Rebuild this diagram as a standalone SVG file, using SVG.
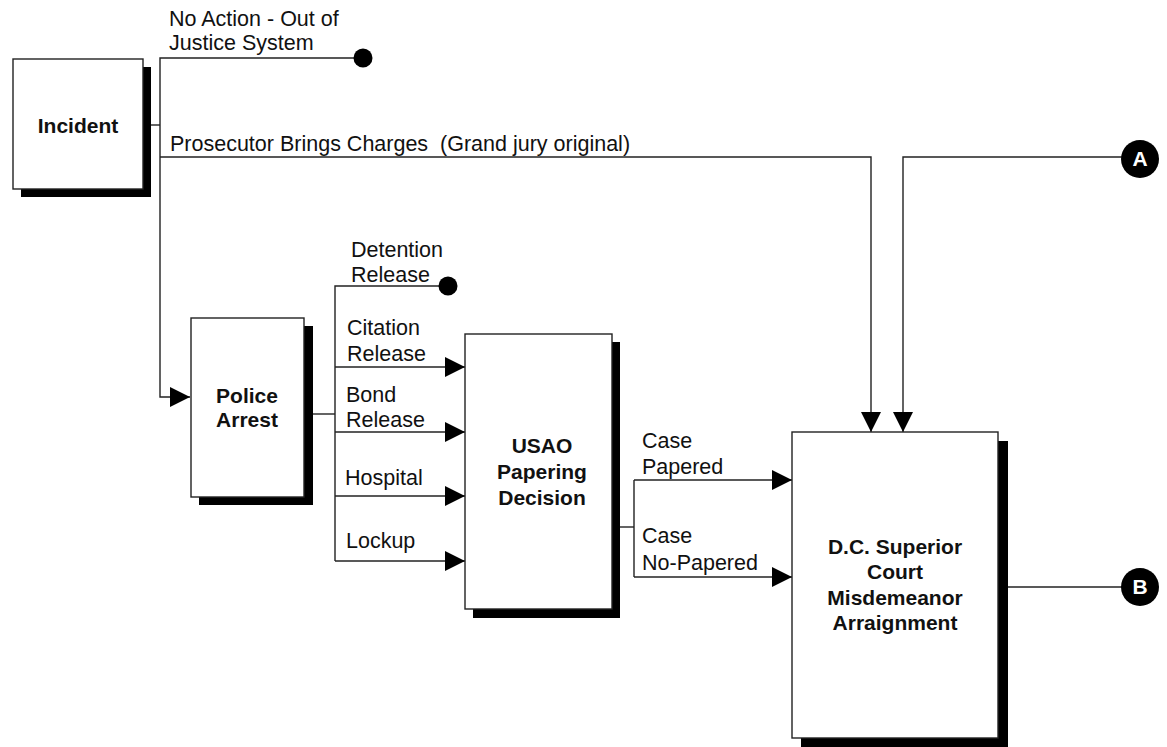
<svg xmlns="http://www.w3.org/2000/svg" width="1167" height="747" viewBox="0 0 1167 747">
  <style>
    .box { fill: #ffffff; stroke: #222222; stroke-width: 1.4; }
    .shadow { fill: #000000; }
    .title { font-family: "Liberation Sans", Arial, sans-serif; font-size: 21px; font-weight: bold; fill: #111111; text-anchor: middle; }
    .lbl { font-family: "Liberation Sans", Arial, sans-serif; font-size: 21.5px; fill: #111111; white-space: pre; }
    .wire { fill: none; stroke: #222222; stroke-width: 1.4; }
    .end { fill: #000000; }
    .conn-letter { font-family: "Liberation Sans", Arial, sans-serif; font-size: 21px; font-weight: bold; fill: #ffffff; text-anchor: middle; }
  </style>
  <defs>
    <marker id="arrow" viewBox="0 0 20 20" refX="20" refY="10" markerWidth="20" markerHeight="20" markerUnits="userSpaceOnUse" orient="auto">
      <path d="M0,0 L20,10 L0,20 z" fill="#000000"/>
    </marker>
  </defs>
  <rect width="1167" height="747" fill="#ffffff"/>

  <!-- flow lines -->
  <g id="connectors">
    <!-- Incident outlets -->
    <path class="wire" d="M143,125 H160"/>
    <path class="wire" d="M363,58 H160 V397 H190" marker-end="url(#arrow)"/>
    <path class="wire" d="M160,157 H871 V432" marker-end="url(#arrow)"/>
    <!-- connector A into arraignment -->
    <path class="wire" d="M1140,157 H903 V432" marker-end="url(#arrow)"/>
    <!-- Police Arrest outlets -->
    <path class="wire" d="M313,414 H335"/>
    <path class="wire" d="M448,286 H335 V561"/>
    <path class="wire" d="M335,367 H465" marker-end="url(#arrow)"/>
    <path class="wire" d="M335,432 H465" marker-end="url(#arrow)"/>
    <path class="wire" d="M335,496 H465" marker-end="url(#arrow)"/>
    <path class="wire" d="M335,561 H465" marker-end="url(#arrow)"/>
    <!-- Papering decision outlets -->
    <path class="wire" d="M620,527 H634"/>
    <path class="wire" d="M634,480 V577"/>
    <path class="wire" d="M634,480 H792" marker-end="url(#arrow)"/>
    <path class="wire" d="M634,577 H792" marker-end="url(#arrow)"/>
    <!-- arraignment to connector B -->
    <path class="wire" d="M1008,587 H1140"/>
    <!-- terminal dots -->
    <circle class="end" cx="363" cy="58" r="9.5"/>
    <circle class="end" cx="448" cy="286" r="9.5"/>
  </g>

  <!-- branch labels -->
  <g id="labels">
    <text class="lbl" x="169" y="26">No Action - Out of</text>
    <text class="lbl" x="169" y="50">Justice System</text>
    <text class="lbl" x="170" y="151">Prosecutor Brings Charges  (Grand jury original)</text>
    <text class="lbl" x="351" y="257">Detention</text>
    <text class="lbl" x="351" y="282">Release</text>
    <text class="lbl" x="347" y="335">Citation</text>
    <text class="lbl" x="347" y="361">Release</text>
    <text class="lbl" x="346" y="402">Bond</text>
    <text class="lbl" x="346" y="427">Release</text>
    <text class="lbl" x="345" y="485">Hospital</text>
    <text class="lbl" x="346" y="548">Lockup</text>
    <text class="lbl" x="642" y="448">Case</text>
    <text class="lbl" x="642" y="474">Papered</text>
    <text class="lbl" x="642" y="543">Case</text>
    <text class="lbl" x="642" y="570">No-Papered</text>
  </g>

  <g id="incident">
    <rect class="shadow" x="21" y="67" width="130" height="130"/>
    <rect class="box" x="13" y="59" width="130" height="130"/>
    <text class="title" x="78" y="133">Incident</text>
  </g>

  <g id="police-arrest">
    <rect class="shadow" x="199" y="326" width="114" height="179"/>
    <rect class="box" x="191" y="318" width="113" height="179"/>
    <text class="title" x="247" y="403">Police</text>
    <text class="title" x="247" y="427">Arrest</text>
  </g>

  <g id="usao-papering">
    <rect class="shadow" x="473" y="342" width="147" height="276"/>
    <rect class="box" x="465" y="334" width="147" height="275"/>
    <text class="title" x="542" y="453">USAO</text>
    <text class="title" x="542" y="479">Papering</text>
    <text class="title" x="542" y="505">Decision</text>
  </g>

  <g id="superior-court">
    <rect class="shadow" x="801" y="441" width="207" height="306"/>
    <rect class="box" x="792" y="432" width="206" height="306"/>
    <text class="title" x="895" y="554">D.C. Superior</text>
    <text class="title" x="895" y="579">Court</text>
    <text class="title" x="895" y="605">Misdemeanor</text>
    <text class="title" x="895" y="630">Arraignment</text>
  </g>

  <g id="connector-a">
    <circle class="end" cx="1140" cy="159" r="19"/>
    <text class="conn-letter" x="1140" y="166">A</text>
  </g>

  <g id="connector-b">
    <circle class="end" cx="1140" cy="587" r="19"/>
    <text class="conn-letter" x="1140" y="594">B</text>
  </g>
</svg>
